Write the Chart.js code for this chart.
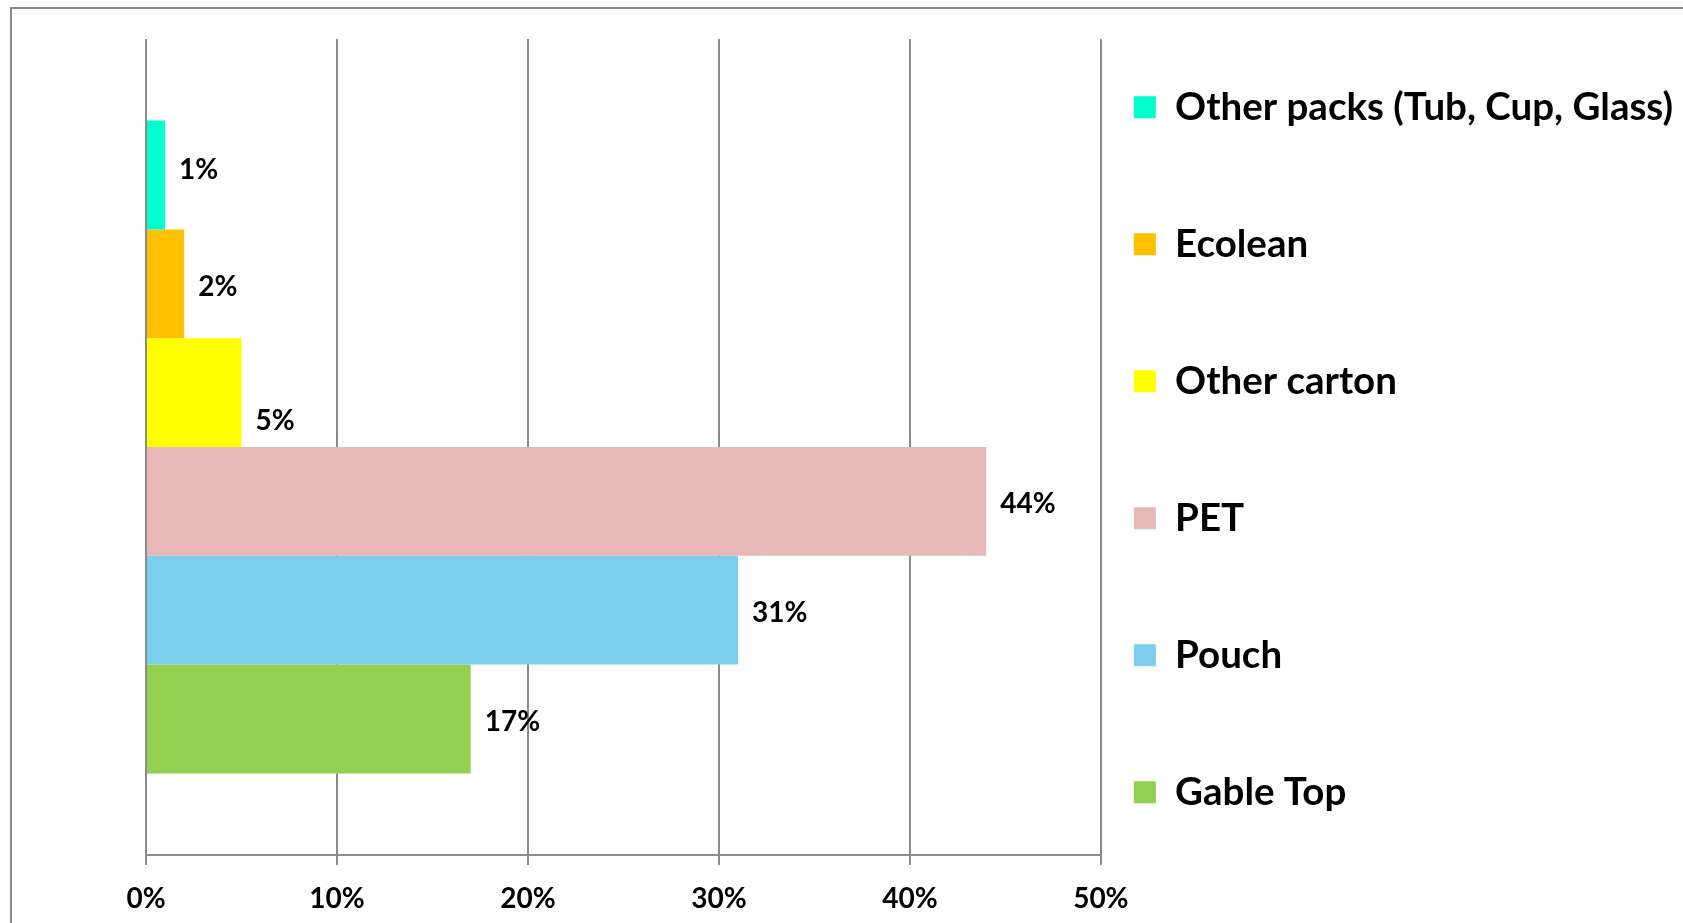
<!DOCTYPE html>
<html>
<head>
<meta charset="utf-8">
<script src="https://cdn.jsdelivr.net/npm/chart.js@4/dist/chart.umd.min.js"></script>
<style>
  html, body { margin: 0; padding: 0; background: #fff; overflow: hidden; }
  #frame {
    position: absolute; left: 10px; top: 7px; width: 1760px; height: 1000px;
    border-left: 2px solid #8a8a8a; border-top: 2px solid #8a8a8a;
  }
  #wrap { position: absolute; left: 0; top: 0; width: 1683px; height: 923px; }
</style>
</head>
<body>
<div id="frame"></div>
<div id="wrap"><canvas id="packChart"></canvas></div>
<script>
// one category, one dataset per pack type (top to bottom as drawn)
const packTypes = ['Other packs (Tub, Cup, Glass)', 'Ecolean', 'Other carton', 'PET', 'Pouch', 'Gable Top'];
const shares = [1, 2, 5, 44, 31, 17];
const packColors = ['#00FFCC', '#FFC000', '#FFFF00', '#E6B8B7', '#7BCFEC', '#92D050'];
const xTicks = [0, 10, 20, 30, 40, 50];

const FONT = 'Lato, "Open Sans", sans-serif';

const datasets = packTypes.map((name, i) => ({
    label: name,
    data: [shares[i]],
    backgroundColor: packColors[i],
    borderWidth: 0,
    categoryPercentage: 0.8,
    barPercentage: 1.0
}));

// value labels to the right of each bar
const barLabels = {
    id: 'barLabels',
    afterDatasetsDraw(chart, args, opts) {
        const ctx = chart.ctx;
        ctx.save();
        ctx.font = 'bold 28px ' + FONT;
        ctx.fillStyle = '#000';
        ctx.textAlign = 'left';
        ctx.textBaseline = 'middle';
        chart.data.datasets.forEach((ds, i) => {
            const bar = chart.getDatasetMeta(i).data[0];
            const nudge = (opts.nudge && opts.nudge[i]) || 0;
            ctx.fillText(ds.data[0] + '%', bar.x + 14, bar.y + 3 + nudge);
        });
        ctx.restore();
    }
};

new Chart(document.getElementById('packChart'), {
    type: 'bar',
    data: {
        labels: [''],
        datasets: datasets
    },
    plugins: [barLabels],
    options: {
        indexAxis: 'y',
        responsive: true,
        maintainAspectRatio: false,
        animation: false,
        layout: {
            padding: { top: 39, bottom: 13, left: 146, right: 0 }
        },
        scales: {
            x: {
                min: 0,
                max: 50,
                afterBuildTicks: axis => { axis.ticks = xTicks.map(v => ({ value: v })); },
                // keep the axis band short so the plot reaches down to the Excel axis line
                afterFit: axis => { axis.height = 55; },
                grid: {
                    color: '#8c8c8c',
                    lineWidth: 2,
                    tickLength: 10,
                    drawTicks: true
                },
                border: { color: '#8c8c8c', width: 2 },
                ticks: {
                    color: '#000',
                    padding: 24,
                    maxRotation: 0,
                    font: { family: FONT, size: 28, weight: 'bold', lineHeight: '20px' },
                    callback: v => v + '%'
                }
            },
            y: {
                display: false
            }
        },
        plugins: {
            tooltip: { enabled: false },
            barLabels: { nudge: [-8, 0, 25, 0, 0, 0] },
            legend: {
                position: 'right',
                align: 'end',
                labels: {
                    boxWidth: 22,
                    boxHeight: 22,
                    padding: 33,
                    color: '#000',
                    font: { family: FONT, size: 38.5, weight: 'bold', lineHeight: '104px' },
                    // single-line arrays so item height follows the font lineHeight
                    generateLabels: chart => Chart.defaults.plugins.legend.labels.generateLabels(chart)
                        .map(item => Object.assign(item, { text: [item.text], lineWidth: 0 }))
                }
            }
        }
    }
});
</script>
</body>
</html>
